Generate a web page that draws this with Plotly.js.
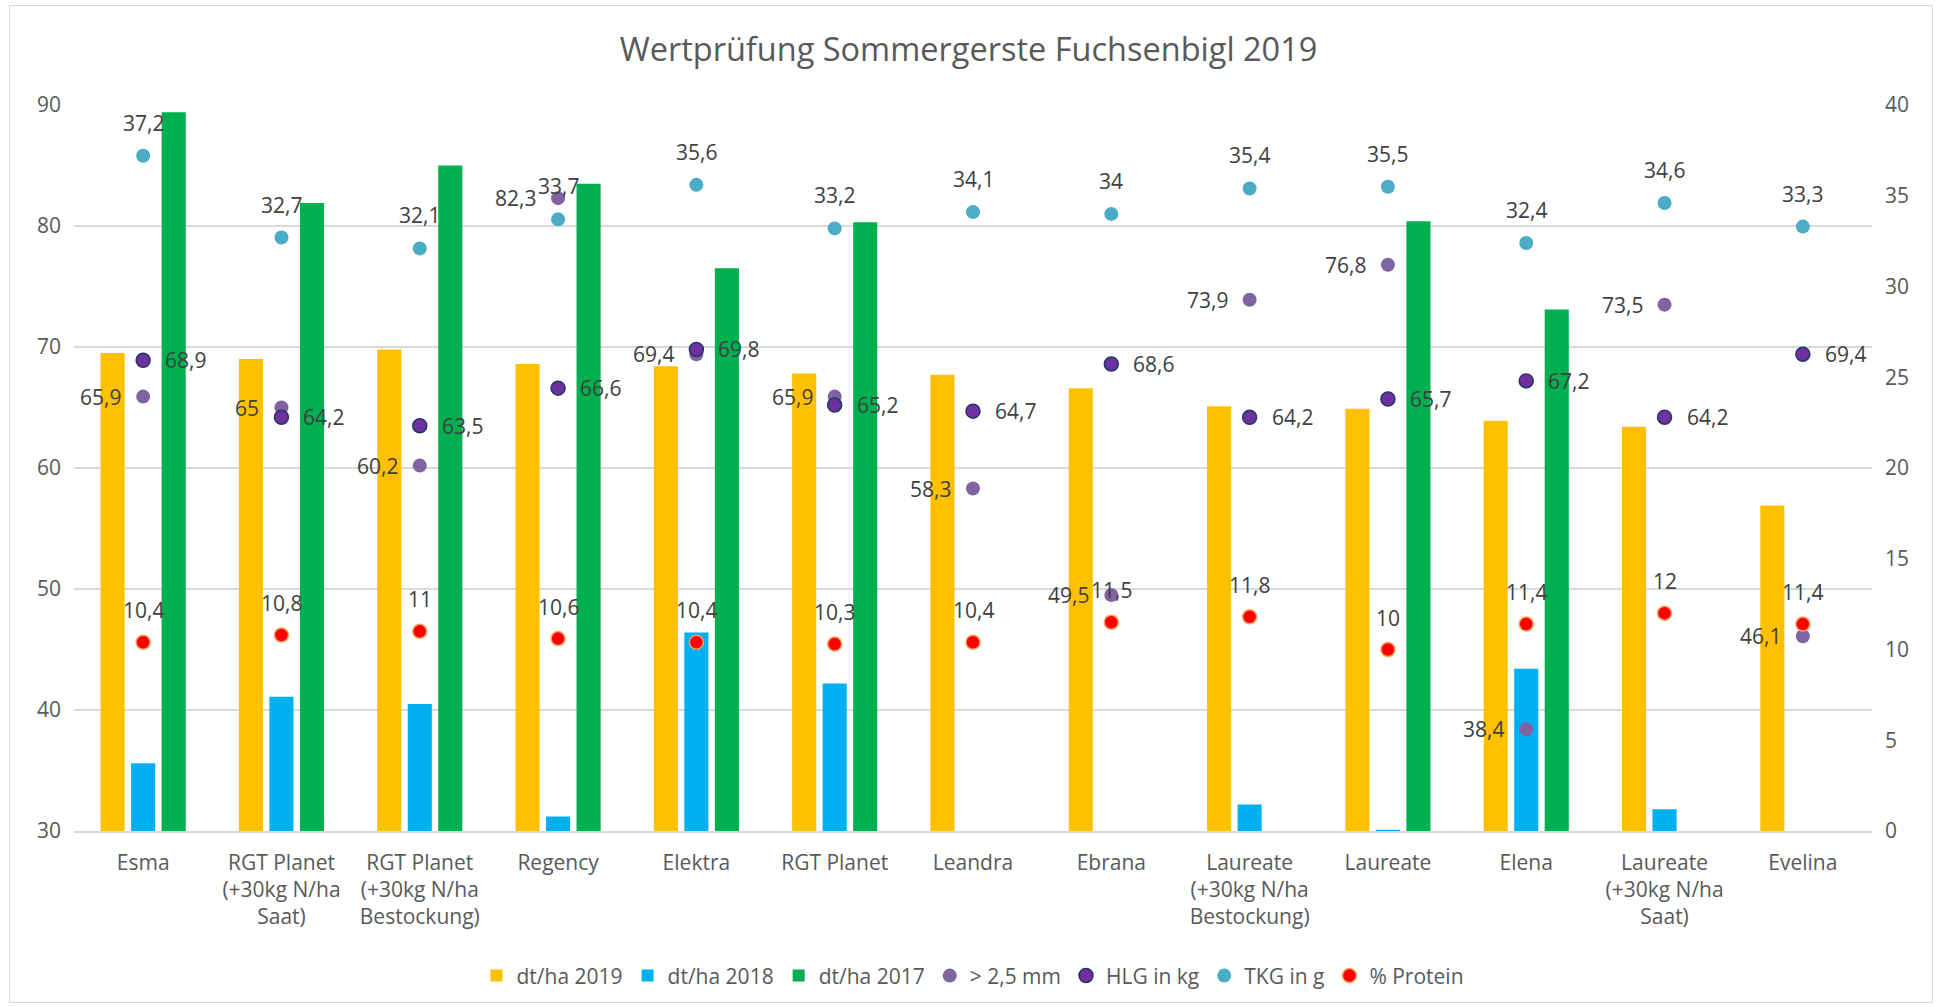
<!DOCTYPE html>
<html>
<head>
<meta charset="utf-8">
<script src="https://cdn.plot.ly/plotly-3.0.1.min.js"></script>
<style>
  html, body { margin: 0; padding: 0; background: #ffffff; }
  #wrap { position: relative; width: 1937px; height: 1007px; }
  #chart { position: absolute; left: 0; top: 0; width: 1937px; height: 1007px; }
  #frame { position: absolute; left: 9px; top: 5px; width: 1922px; height: 996px; border: 1.5px solid #d9d9d9; pointer-events: none; }
</style>
</head>
<body>
<div id="wrap">
  <div id="chart"></div>
  <div id="frame"></div>
</div>
<script>
// ---- data ----
const categories = [
  'Esma',
  'RGT Planet<br>(+30kg N/ha<br>Saat)',
  'RGT Planet<br>(+30kg N/ha<br>Bestockung)',
  'Regency',
  'Elektra',
  'RGT Planet',
  'Leandra',
  'Ebrana',
  'Laureate<br>(+30kg N/ha<br>Bestockung)',
  'Laureate',
  'Elena',
  'Laureate<br>(+30kg N/ha<br>Saat)',
  'Evelina'
];
const dtha2019 = [69.5, 69.0, 69.8, 68.6, 68.4, 67.8, 67.7, 66.6, 65.1, 64.9, 63.9, 63.4, 56.9];
const dtha2018 = [35.6, 41.1, 40.5, 31.2, 46.4, 42.2, null, null, 32.2, 30.1, 43.4, 31.8, null];
const dtha2017 = [89.4, 81.9, 85.0, 83.5, 76.5, 80.3, null, null, null, 80.4, 73.1, null, null];
const over25mm = [65.9, 65, 60.2, 82.3, 69.4, 65.9, 58.3, 49.5, 73.9, 76.8, 38.4, 73.5, 46.1];
const hlgKg    = [68.9, 64.2, 63.5, 66.6, 69.8, 65.2, 64.7, 68.6, 64.2, 65.7, 67.2, 64.2, 69.4];
const tkgG     = [37.2, 32.7, 32.1, 33.7, 35.6, 33.2, 34.1, 34, 35.4, 35.5, 32.4, 34.6, 33.3];
const protein  = [10.4, 10.8, 11, 10.6, 10.4, 10.3, 10.4, 11.5, 11.8, 10, 11.4, 12, 11.4];
const leftTicks  = [30, 40, 50, 60, 70, 80, 90];
const rightTicks = [0, 5, 10, 15, 20, 25, 30, 35, 40];

const FONT = '"Open Sans", sans-serif';
const TXT = '#595959';
const LBL = '#404040';
const fmt = v => String(v).replace('.', ',');

const traces = [
  {type: 'bar', name: 'dt/ha 2019', x: categories, y: dtha2019, marker: {color: '#FFC000'}, yaxis: 'y', hoverinfo: 'y'},
  {type: 'bar', name: 'dt/ha 2018', x: categories, y: dtha2018, marker: {color: '#00B0F0'}, yaxis: 'y', hoverinfo: 'y'},
  {type: 'bar', name: 'dt/ha 2017', x: categories, y: dtha2017, marker: {color: '#00B050'}, yaxis: 'y', hoverinfo: 'y'},
  {type: 'scatter', mode: 'markers', name: '> 2,5 mm', x: categories, y: over25mm, yaxis: 'y',
   marker: {color: '#8064A2', size: 14, line: {width: 0}}},
  {type: 'scatter', mode: 'markers', name: 'HLG in kg', x: categories, y: hlgKg, yaxis: 'y',
   marker: {color: '#7030A0', size: 14, line: {width: 1.5, color: '#203864'}}},
  {type: 'scatter', mode: 'markers', name: 'TKG in g', x: categories, y: tkgG, yaxis: 'y2',
   marker: {color: '#4BACC6', size: 14, line: {width: 0}}},
  {type: 'scatter', mode: 'markers', name: '% Protein', x: categories, y: protein, yaxis: 'y2',
   marker: {color: '#FF0000', size: 14, line: {width: 1.5, color: '#F4A460'}}}
];

const annFont = {family: FONT, size: 21, color: LBL};
const annotations = [];
categories.forEach((c, i) => {
  annotations.push({x: i, y: tkgG[i], xref: 'x', yref: 'y2', text: fmt(tkgG[i]), showarrow: false,
    xanchor: 'center', yanchor: 'middle', yshift: 33, font: annFont});
  annotations.push({x: i, y: protein[i], xref: 'x', yref: 'y2', text: fmt(protein[i]), showarrow: false,
    xanchor: 'center', yanchor: 'middle', yshift: 32, font: annFont});
  annotations.push({x: i, y: hlgKg[i], xref: 'x', yref: 'y', text: fmt(hlgKg[i]), showarrow: false,
    xanchor: 'left', yanchor: 'middle', xshift: 20, font: annFont});
  annotations.push({x: i, y: over25mm[i], xref: 'x', yref: 'y', text: fmt(over25mm[i]), showarrow: false,
    xanchor: 'right', yanchor: 'middle', xshift: -20, font: annFont});
});

const layout = {
  width: 1937, height: 1007,
  margin: {l: 74, r: 65, t: 105, b: 175},
  paper_bgcolor: '#ffffff', plot_bgcolor: '#ffffff',
  font: {family: FONT, color: TXT, size: 21},
  title: {text: 'Wertprüfung Sommergerste Fuchsenbigl 2019', x: 0.5, xanchor: 'center', y: 0.951, yanchor: 'middle',
          font: {family: FONT, size: 32.5, color: TXT}},
  barmode: 'group', bargap: 0.338, bargroupgap: 0.21,
  showlegend: true,
  legend: {orientation: 'h', x: 0.5, xanchor: 'center', y: -0.198, yanchor: 'middle',
           font: {family: FONT, size: 21, color: TXT}, itemwidth: 30, traceorder: 'normal'},
  xaxis: {type: 'category', range: [-0.5, categories.length - 0.5], autorange: false, showgrid: false,
          showline: true, linecolor: '#d9d9d9', linewidth: 1.5,
          ticks: '', tickfont: {family: FONT, size: 21, color: TXT}, ticklabelstandoff: 12, zeroline: false},
  yaxis: {range: [30, 90], tickvals: leftTicks, showgrid: true, gridcolor: '#d9d9d9', gridwidth: 1.5,
          zeroline: false, showline: false, ticks: '', tickfont: {family: FONT, size: 21, color: TXT}, ticklabelstandoff: 12},
  yaxis2: {range: [0, 40], tickvals: rightTicks, overlaying: 'y', side: 'right', showgrid: false,
           zeroline: false, showline: false, ticks: '', tickfont: {family: FONT, size: 21, color: TXT}, ticklabelstandoff: 12},
  annotations: annotations
};

Plotly.newPlot('chart', traces, layout, {displayModeBar: false, staticPlot: true});
</script>
</body>
</html>
